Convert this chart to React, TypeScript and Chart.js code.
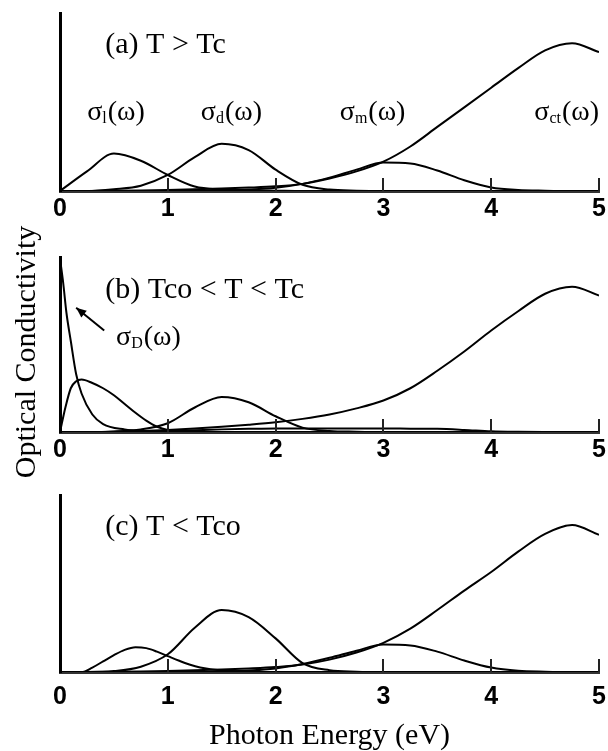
import React, { useEffect, useRef } from 'react';
import { Chart, registerables } from 'chart.js';

Chart.register(...registerables);

// ---------- data ----------
const energy = [0, 0.25, 0.5, 0.75, 1, 1.25, 1.5, 1.75, 2, 2.25, 2.5, 2.75, 3, 3.25, 3.5, 3.75, 4, 4.25, 4.5, 4.75, 5];

// panel (a) T > Tc
const aSigmaL = [0, 0.11, 0.21, 0.17, 0.09, 0.025, 0.008, 0.004, 0.002, 0, 0, 0, 0, 0, 0, 0, 0, 0, 0, 0, 0];
const aSigmaD = [0, 0, 0.01, 0.03, 0.09, 0.19, 0.265, 0.23, 0.12, 0.035, 0.008, 0.002, 0, 0, 0, 0, 0, 0, 0, 0, 0];
const aSigmaM = [0, 0, 0, 0, 0, 0, 0.003, 0.008, 0.018, 0.04, 0.075, 0.12, 0.16, 0.155, 0.115, 0.06, 0.02, 0.006, 0.002, 0, 0];
const aSigmaCT = [0, 0, 0.001, 0.003, 0.006, 0.01, 0.014, 0.019, 0.026, 0.04, 0.07, 0.11, 0.165, 0.25, 0.36, 0.47, 0.58, 0.69, 0.79, 0.83, 0.78];

// panel (b) Tco < T < Tc
const bDrudeE = [0, 0.03, 0.06, 0.1, 0.15, 0.2, 0.3, 0.4, 0.6, 0.8, 1, 5];
const bDrude = [0.99, 0.85, 0.68, 0.52, 0.33, 0.22, 0.1, 0.045, 0.015, 0.005, 0, 0];
const bSigmaLE = [0, 0.05, 0.1, 0.15, 0.2, 0.3, 0.4, 0.5, 0.6, 0.7, 0.8, 0.9, 1, 1.2, 1.5, 5];
const bSigmaL = [0, 0.14, 0.25, 0.29, 0.3, 0.28, 0.25, 0.21, 0.16, 0.11, 0.065, 0.03, 0.012, 0.003, 0, 0];
const bSigmaD = [0, 0, 0.003, 0.015, 0.05, 0.14, 0.2, 0.17, 0.09, 0.025, 0.006, 0.002, 0, 0, 0, 0, 0, 0, 0, 0, 0];
const bSigmaM = [0, 0, 0, 0.002, 0.005, 0.01, 0.015, 0.018, 0.02, 0.02, 0.02, 0.02, 0.02, 0.019, 0.018, 0.012, 0.004, 0.001, 0, 0, 0];
const bSigmaCT = [0, 0, 0.002, 0.006, 0.012, 0.02, 0.03, 0.042, 0.056, 0.075, 0.1, 0.135, 0.18, 0.25, 0.35, 0.46, 0.58, 0.69, 0.79, 0.83, 0.78];

// panel (c) T < Tco
const cSigmaLE = [0, 0.2, 0.3, 0.4, 0.5, 0.6, 0.7, 0.8, 0.9, 1, 1.1, 1.2, 1.3, 1.5, 2, 5];
const cSigmaL = [0, 0, 0.025, 0.06, 0.095, 0.125, 0.14, 0.135, 0.115, 0.09, 0.065, 0.042, 0.025, 0.008, 0, 0];
const cSigmaD = [0, 0, 0.005, 0.03, 0.1, 0.25, 0.35, 0.31, 0.19, 0.05, 0.01, 0.002, 0, 0, 0, 0, 0, 0, 0, 0, 0];
const cSigmaM = [0, 0, 0, 0, 0, 0, 0.003, 0.008, 0.02, 0.045, 0.08, 0.12, 0.155, 0.15, 0.115, 0.065, 0.025, 0.007, 0.002, 0, 0];
const cSigmaCT = [0, 0, 0.001, 0.003, 0.006, 0.01, 0.014, 0.02, 0.028, 0.042, 0.07, 0.11, 0.165, 0.245, 0.35, 0.46, 0.565, 0.68, 0.78, 0.83, 0.775];

const panelTitles = ['(a) T > Tc', '(b) Tco < T < Tc', '(c) T < Tco'];
const xAxisTitle = 'Photon Energy (eV)';
const yAxisTitle = 'Optical Conductivity';

// ---------- drawing helpers ----------
const SERIF = '"Liberation Serif", "Times New Roman", serif';

function drawSigma(ctx: CanvasRenderingContext2D, sub: string, x0: number, cy: number, align: string) {
  const big = `28px ${SERIF}`;
  const small = `16px ${SERIF}`;
  ctx.font = big;
  const w1 = ctx.measureText('σ').width;
  const w3 = ctx.measureText('(ω)').width;
  ctx.font = small;
  const w2 = ctx.measureText(sub).width;
  const total = w1 + w2 + 1 + w3;
  let x = align === 'center' ? x0 - total / 2 : x0;
  ctx.font = big;
  ctx.fillText('σ', x, cy);
  x += w1;
  ctx.font = small;
  ctx.fillText(sub, x, cy + 6);
  x += w2 + 1;
  ctx.font = big;
  ctx.fillText('(ω)', x, cy);
}

const panelDecor = {
  id: 'panelDecor',
  afterDatasetsDraw(chart: any, _args: any, opts: any) {
    const { ctx, chartArea } = chart;
    const xs = chart.scales.x;
    const ys = chart.scales.y;
    ctx.save();
    // inward tick marks
    ctx.strokeStyle = '#222';
    ctx.lineWidth = 2;
    for (const t of xs.ticks) {
      if (t.value === 0) continue;
      const px = Math.round(xs.getPixelForValue(t.value));
      ctx.beginPath();
      ctx.moveTo(px, chartArea.bottom);
      ctx.lineTo(px, chartArea.bottom - 13);
      ctx.stroke();
    }
    ctx.fillStyle = '#000';
    ctx.textBaseline = 'middle';
    ctx.textAlign = 'left';
    if (opts.title) {
      ctx.font = `30px ${SERIF}`;
      ctx.fillText(opts.title.text, xs.getPixelForValue(opts.title.x), ys.getPixelForValue(opts.title.y));
    }
    for (const s of opts.sigmas || []) {
      drawSigma(ctx, s.sub, xs.getPixelForValue(s.x), ys.getPixelForValue(s.y), s.align);
    }
    if (opts.arrow) {
      const a = opts.arrow;
      const x1 = xs.getPixelForValue(a.from[0]);
      const y1 = ys.getPixelForValue(a.from[1]);
      const x2 = xs.getPixelForValue(a.to[0]);
      const y2 = ys.getPixelForValue(a.to[1]);
      ctx.strokeStyle = '#000';
      ctx.lineWidth = 2;
      ctx.beginPath();
      ctx.moveTo(x1, y1);
      ctx.lineTo(x2, y2);
      ctx.stroke();
      const ang = Math.atan2(y2 - y1, x2 - x1);
      const L = 11;
      ctx.beginPath();
      ctx.moveTo(x2, y2);
      ctx.lineTo(x2 - L * Math.cos(ang - 0.4), y2 - L * Math.sin(ang - 0.4));
      ctx.lineTo(x2 - L * Math.cos(ang + 0.4), y2 - L * Math.sin(ang + 0.4));
      ctx.closePath();
      ctx.fillStyle = '#000';
      ctx.fill();
    }
    ctx.restore();
  },
};

type Series = { x: number[]; y: number[] };

const panels = [
  {
    top: 0, canvasH: 236, padTop: 13, xAxisH: 45, labelLH: 36, xTitle: false,
    series: [
      { x: energy, y: aSigmaL },
      { x: energy, y: aSigmaD },
      { x: energy, y: aSigmaM },
      { x: energy, y: aSigmaCT },
    ] as Series[],
    decor: {
      title: { text: panelTitles[0], x: 0.42, y: 0.82 },
      sigmas: [
        { sub: 'l', x: 0.52, y: 0.44, align: 'center' },
        { sub: 'd', x: 1.59, y: 0.44, align: 'center' },
        { sub: 'm', x: 2.9, y: 0.44, align: 'center' },
        { sub: 'ct', x: 4.7, y: 0.44, align: 'center' },
      ],
    },
  },
  {
    top: 240, canvasH: 236, padTop: 17, xAxisH: 44, labelLH: 36, xTitle: false,
    series: [
      { x: bDrudeE, y: bDrude },
      { x: bSigmaLE, y: bSigmaL },
      { x: energy, y: bSigmaD },
      { x: energy, y: bSigmaM },
      { x: energy, y: bSigmaCT },
    ] as Series[],
    decor: {
      title: { text: panelTitles[1], x: 0.42, y: 0.81 },
      sigmas: [{ sub: 'D', x: 0.52, y: 0.54, align: 'left' }],
      arrow: { from: [0.41, 0.58], to: [0.15, 0.71] },
    },
  },
  {
    top: 480, canvasH: 271, padTop: 15, xAxisH: 79, labelLH: 50, xTitle: true,
    series: [
      { x: cSigmaLE, y: cSigmaL },
      { x: energy, y: cSigmaD },
      { x: energy, y: cSigmaM },
      { x: energy, y: cSigmaCT },
    ] as Series[],
    decor: {
      title: { text: panelTitles[2], x: 0.42, y: 0.82 },
      sigmas: [],
    },
  },
];

function makeConfig(p: any): any {
  return {
    type: 'line',
    data: {
      datasets: p.series.map((s: Series) => ({
        data: s.x.map((x, i) => ({ x, y: s.y[i] })),
        borderColor: '#000',
        borderWidth: 2,
        pointRadius: 0,
        pointHoverRadius: 0,
        cubicInterpolationMode: 'monotone',
        fill: false,
      })),
    },
    options: {
      animation: false,
      responsive: false,
      maintainAspectRatio: false,
      events: [],
      layout: { padding: { top: p.padTop, right: 9, left: 0, bottom: 0 } },
      plugins: {
        legend: { display: false },
        tooltip: { enabled: false },
        panelDecor: p.decor,
      },
      scales: {
        x: {
          type: 'linear',
          min: 0,
          max: 5,
          afterFit: (s: any) => { s.height = p.xAxisH; },
          grid: { display: false, drawTicks: false },
          border: { display: true, color: '#333', width: 3 },
          ticks: {
            stepSize: 1,
            autoSkip: false,
            maxRotation: 0,
            padding: 0,
            color: '#000',
            font: { family: '"Liberation Sans", Arial, sans-serif', size: 25, weight: 'bold', lineHeight: `${p.labelLH}px` },
          },
          title: p.xTitle
            ? {
                display: true,
                text: xAxisTitle,
                color: '#000',
                font: { family: SERIF, size: 30, lineHeight: 1 },
                padding: { top: 0, bottom: 0 },
              }
            : { display: false },
        },
        y: {
          type: 'linear',
          min: 0,
          max: 1,
          afterFit: (s: any) => { s.width = 60; },
          grid: { display: false, drawTicks: false },
          ticks: { display: false },
          border: { display: true, color: '#000', width: 3 },
        },
      },
    },
    plugins: [panelDecor],
  };
}

export default function App() {
  const r0 = useRef<HTMLCanvasElement>(null);
  const r1 = useRef<HTMLCanvasElement>(null);
  const r2 = useRef<HTMLCanvasElement>(null);
  const refs = [r0, r1, r2];

  useEffect(() => {
    const charts = panels.map((p, i) => new Chart(refs[i].current as HTMLCanvasElement, makeConfig(p)));
    return () => charts.forEach((c) => c.destroy());
  }, []);

  return (
    <div style={{ position: 'absolute', left: 0, top: 0, width: 608, height: 751, background: '#fff' }}>
      {panels.map((p, i) => (
        <canvas
          key={i}
          ref={refs[i]}
          width={608}
          height={p.canvasH}
          style={{ position: 'absolute', left: 0, top: p.top, width: 608, height: p.canvasH, display: 'block' }}
        />
      ))}
      <div
        style={{
          position: 'absolute',
          left: 23 - 150,
          top: 352 - 15,
          width: 300,
          height: 30,
          lineHeight: '30px',
          textAlign: 'center',
          transform: 'rotate(-90deg)',
          font: `30px ${SERIF}`,
          color: '#000',
          whiteSpace: 'nowrap',
        }}
      >
        {yAxisTitle}
      </div>
    </div>
  );
}
